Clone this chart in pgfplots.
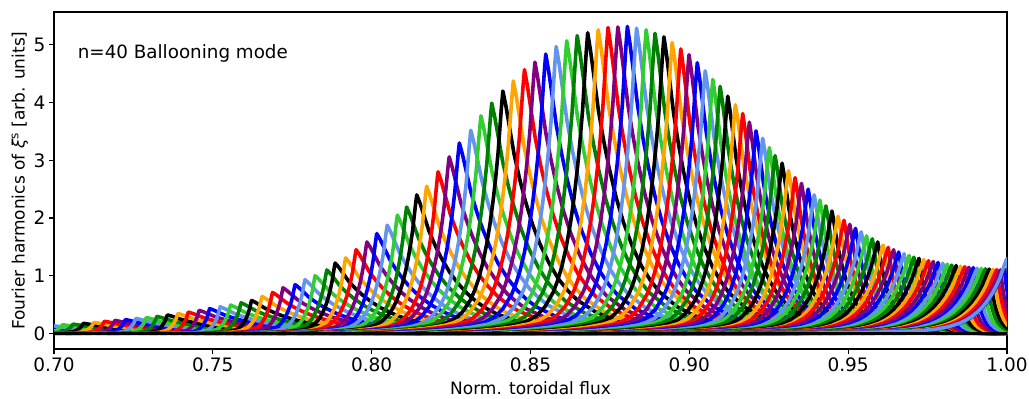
\documentclass[border=0pt]{standalone}
\usepackage{fontspec}
\setmainfont{DejaVu Sans}
\usepackage{pgfplots}
\usepackage{pgfplotstable}
\pgfplotsset{compat=1.18}

\definecolor{mcornflower}{RGB}{100,149,237}
\definecolor{mlime}{RGB}{50,205,50}
\definecolor{mgreen}{RGB}{0,128,0}
\definecolor{mpurple}{RGB}{128,0,128}
\definecolor{morange}{RGB}{255,165,0}

% colour of harmonic m, repeating every eight harmonics
\pgfplotsset{
  hbase/.style={line width=3.6pt, line join=round, line cap=round, no markers},
  hc0/.style={hbase, color=red},
  hc1/.style={hbase, color=mpurple},
  hc2/.style={hbase, color=blue},
  hc3/.style={hbase, color=mcornflower},
  hc4/.style={hbase, color=mlime},
  hc5/.style={hbase, color=mgreen},
  hc6/.style={hbase, color=black},
  hc7/.style={hbase, color=morange},
}

% peak position, peak amplitude, left and right decay lengths of each harmonic
\pgfplotstableread{
x0 h wl wr
0.6895 0.090 0.0019 0.0157
0.6928 0.100 0.0019 0.0157
0.6961 0.120 0.0019 0.0157
0.6994 0.135 0.0019 0.0157
0.7027 0.150 0.0019 0.0157
0.7060 0.160 0.0019 0.0157
0.7093 0.175 0.0019 0.0157
0.7126 0.190 0.0019 0.0157
0.7159 0.210 0.0019 0.0157
0.7192 0.225 0.0019 0.0157
0.7225 0.240 0.0019 0.0157
0.7258 0.260 0.0019 0.0157
0.7291 0.275 0.0019 0.0157
0.7324 0.295 0.0019 0.0157
0.7357 0.320 0.0019 0.0157
0.7390 0.345 0.0019 0.0157
0.7423 0.370 0.0019 0.0157
0.7457 0.400 0.0019 0.0157
0.7490 0.430 0.0019 0.0157
0.7523 0.460 0.0019 0.0157
0.7556 0.490 0.0022 0.0155
0.7589 0.530 0.0022 0.0155
0.7622 0.570 0.0022 0.0155
0.7655 0.640 0.0025 0.0151
0.7688 0.710 0.0025 0.0151
0.7721 0.790 0.0025 0.0151
0.7759 0.845 0.0028 0.0146
0.7790 0.930 0.0028 0.0146
0.7822 1.000 0.0028 0.0146
0.7859 1.100 0.0032 0.0142
0.7885 1.220 0.0032 0.0142
0.7918 1.310 0.0032 0.0142
0.7951 1.450 0.0036 0.0136
0.7985 1.585 0.0036 0.0136
0.8016 1.730 0.0036 0.0136
0.8049 1.875 0.0040 0.0131
0.8081 2.050 0.0040 0.0131
0.8110 2.190 0.0040 0.0131
0.8142 2.400 0.0044 0.0127
0.8173 2.550 0.0044 0.0127
0.8209 2.800 0.0044 0.0127
0.8244 3.060 0.0048 0.0122
0.8276 3.300 0.0048 0.0122
0.8312 3.520 0.0048 0.0122
0.8344 3.770 0.0051 0.0117
0.8378 3.990 0.0051 0.0117
0.8413 4.200 0.0051 0.0117
0.8446 4.375 0.0054 0.0113
0.8481 4.570 0.0054 0.0113
0.8514 4.700 0.0054 0.0113
0.8548 4.840 0.0054 0.0113
0.8581 4.970 0.0054 0.0113
0.8614 5.070 0.0054 0.0113
0.8647 5.160 0.0054 0.0113
0.8680 5.210 0.0054 0.0113
0.8713 5.260 0.0054 0.0113
0.8744 5.300 0.0054 0.0108
0.8775 5.310 0.0054 0.0108
0.8805 5.320 0.0054 0.0108
0.8834 5.290 0.0054 0.0108
0.8864 5.260 0.0054 0.0102
0.8892 5.200 0.0054 0.0102
0.8920 5.140 0.0054 0.0102
0.8946 5.040 0.0054 0.0102
0.8973 4.930 0.0053 0.0095
0.8999 4.830 0.0053 0.0095
0.9025 4.690 0.0053 0.0095
0.9050 4.550 0.0053 0.0095
0.9074 4.400 0.0052 0.0087
0.9097 4.280 0.0052 0.0087
0.9121 4.110 0.0052 0.0087
0.9145 3.960 0.0052 0.0087
0.9168 3.810 0.0052 0.0078
0.9189 3.660 0.0052 0.0078
0.9210 3.510 0.0052 0.0078
0.9231 3.380 0.0052 0.0078
0.9252 3.220 0.0053 0.0069
0.9270 3.080 0.0053 0.0069
0.9292 2.950 0.0053 0.0069
0.9312 2.820 0.0053 0.0069
0.9333 2.700 0.0055 0.0061
0.9353 2.600 0.0055 0.0061
0.9374 2.500 0.0055 0.0061
0.9393 2.400 0.0055 0.0061
0.9411 2.310 0.0058 0.0054
0.9430 2.210 0.0058 0.0054
0.9449 2.120 0.0058 0.0054
0.9468 2.030 0.0058 0.0054
0.9487 1.960 0.0062 0.0047
0.9505 1.890 0.0062 0.0047
0.9523 1.820 0.0062 0.0047
0.9541 1.760 0.0062 0.0047
0.9558 1.690 0.0065 0.0040
0.9576 1.640 0.0065 0.0040
0.9593 1.585 0.0065 0.0040
0.9610 1.530 0.0065 0.0040
0.9626 1.490 0.0068 0.0034
0.9643 1.450 0.0068 0.0034
0.9659 1.410 0.0068 0.0034
0.9676 1.380 0.0068 0.0034
0.9692 1.350 0.0070 0.0030
0.9707 1.320 0.0070 0.0030
0.9723 1.300 0.0070 0.0030
0.9738 1.280 0.0070 0.0030
0.9753 1.260 0.0072 0.0026
0.9768 1.245 0.0072 0.0026
0.9783 1.230 0.0072 0.0026
0.9798 1.215 0.0072 0.0026
0.9812 1.200 0.0072 0.0026
0.9826 1.185 0.0072 0.0026
0.9840 1.175 0.0074 0.0022
0.9854 1.165 0.0074 0.0022
0.9867 1.155 0.0074 0.0022
0.9880 1.145 0.0074 0.0022
0.9894 1.140 0.0074 0.0022
0.9906 1.130 0.0074 0.0022
0.9919 1.125 0.0074 0.0022
0.9932 1.120 0.0074 0.0022
0.9944 1.115 0.0074 0.0022
0.9956 1.110 0.0074 0.0022
0.9968 1.105 0.0074 0.0022
0.9979 1.100 0.0074 0.0022
0.9991 1.120 0.0074 0.0022
1.0000 1.300 0.0074 0.0022
}\peaks

% radial profile of one harmonic: offset u in decay lengths, relative amplitude v,
% side s (0 = inner flank, 1 = outer flank)
\pgfplotstableread{
u v s
-10 0 0
-8 0.005 0
-7 0.009 0
-6 0.014 0
-5 0.021 0
-4 0.032 0
-3.5 0.042 0
-3 0.058 0
-2.5 0.088 0
-2 0.138 0
-1.75 0.176 0
-1.5 0.224 0
-1.25 0.288 0
-1 0.368 0
-0.8 0.449 0
-0.6 0.549 0
-0.45 0.638 0
-0.3 0.741 0
-0.18 0.850 0
-0.08 0.940 0
0 1 0
0.08 0.940 1
0.18 0.850 1
0.3 0.741 1
0.45 0.638 1
0.6 0.549 1
0.8 0.449 1
1 0.368 1
1.25 0.288 1
1.5 0.224 1
1.75 0.176 1
2 0.138 1
2.5 0.088 1
3 0.058 1
3.5 0.042 1
4 0.032 1
5 0.021 1
6 0.014 1
7 0.009 1
8 0.005 1
10 0 1
}\harmshape

\pgfplotstablegetrowsof{\peaks}
\pgfmathtruncatemacro\lastrow{\pgfplotsretval-1}

\begin{document}
\begin{tikzpicture}
\begin{axis}[
  at={(0pt,0pt)}, anchor=south west,
  scale only axis, width=953pt, height=337pt,
  xmin=0.7, xmax=1.0, ymin=-0.27, ymax=5.57,
  xtick={0.70,0.75,0.80,0.85,0.90,0.95,1.00},
  ytick={0,1,2,3,4,5},
  tick pos=left, tick align=outside,
  major tick length=5pt,
  every tick/.style={black, line width=1.1pt},
  axis line style={line width=1.1pt},
  /pgf/number format/assume math mode=true,
  ticklabel style={font=\fontsize{18.5}{18.5}\selectfont},
  xticklabel style={/pgf/number format/.cd, fixed, fixed zerofill, precision=2},
  xlabel={Norm. toroidal flux},
  ylabel={Fourier harmonics of \textit{ξ}\textsuperscript{s} [arb. units]},
  label style={font=\fontsize{17}{17}\selectfont},
  xlabel style={at={(axis description cs:0.5,-0.1157)}, anchor=center},
  ylabel style={at={(axis description cs:-0.0357,0.5)}, anchor=center},
  clip=true,
]
\pgfplotsforeachungrouped \i in {0,...,\lastrow}{%
  \pgfplotstablegetelem{\i}{x0}\of\peaks \let\xo\pgfplotsretval
  \pgfplotstablegetelem{\i}{h}\of\peaks \let\hh\pgfplotsretval
  \pgfplotstablegetelem{\i}{wl}\of\peaks \let\wl\pgfplotsretval
  \pgfplotstablegetelem{\i}{wr}\of\peaks \let\wr\pgfplotsretval
  \pgfmathtruncatemacro\ci{mod(\i,8)}%
  \edef\doplot{\noexpand\addplot[hc\ci] table[
      x expr={\xo+\noexpand\thisrow{u}*(\wl*(1-\noexpand\thisrow{s})+\wr*\noexpand\thisrow{s})},
      y expr={\hh*\noexpand\thisrow{v}}] {\noexpand\harmshape};}%
  \doplot
}
% harmonics that vanish over the whole range
\addplot[black, line width=3.6pt, no markers] coordinates {(0.7,0) (1.0,0)};
\node[anchor=west, font=\fontsize{18.3}{18.3}\selectfont] at (axis cs:0.7064,4.86) {n=40 Ballooning mode};
\end{axis}
\pgfresetboundingbox
\path[use as bounding box] (-54pt,-50pt) rectangle (975pt,349pt);
\end{tikzpicture}
\end{document}
